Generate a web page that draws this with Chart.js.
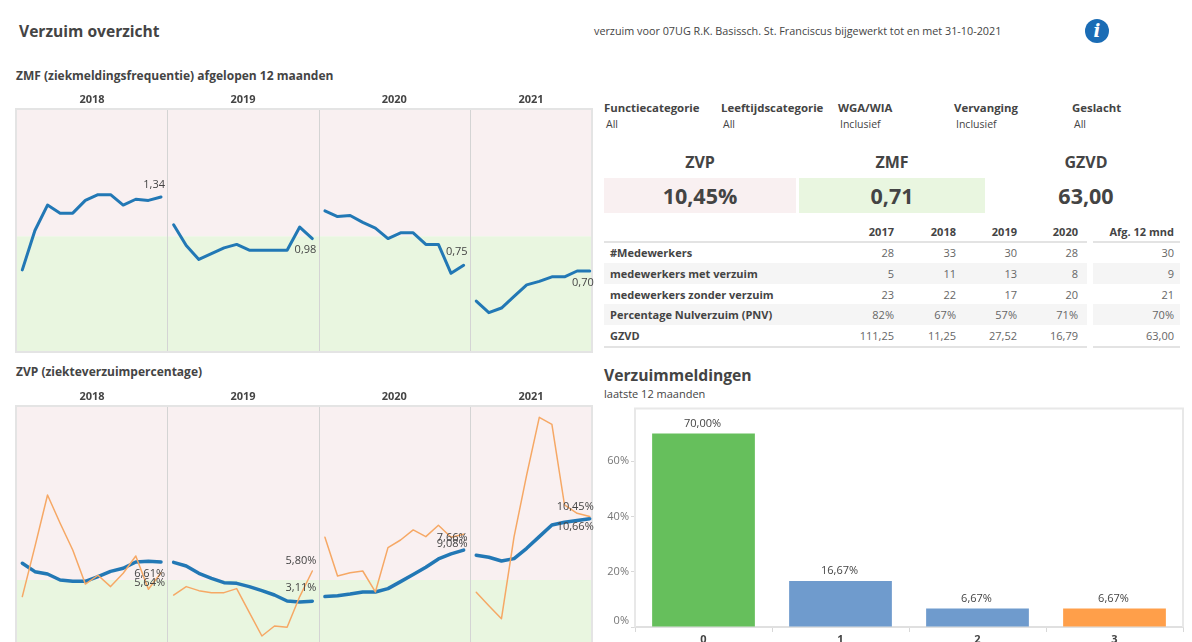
<!DOCTYPE html>
<html lang="nl">
<head>
<meta charset="utf-8">
<title>Verzuim overzicht</title>
<script src="https://cdn.jsdelivr.net/npm/chart.js@4"></script>
<style>
    html, body { margin: 0; padding: 0; width: 1192px; height: 642px; overflow: hidden; background: #fff; }
    body { position: relative; font-family: "Open Sans", sans-serif; font-size: 11px; color: #444; }
    canvas { position: absolute; }
    .txt { position: absolute; white-space: nowrap; line-height: 14px; }
    .b { font-weight: 700; }
    .mid { transform: translateX(-50%); text-align: center; }
    .box { position: absolute; }
    #info { position: absolute; left: 1085px; top: 19px; width: 24px; height: 24px; border-radius: 50%; background: #1a6cb5;
        color: #fff; font: italic 700 18px/24px "DejaVu Serif", serif; text-align: center; }
    .row { position: absolute; height: 21px; line-height: 21px; }
    .line { position: absolute; height: 2px; background: #e3e3e3; }
</style>
</head>
<body>
<div class="txt b" style="left:19px;top:23px;font-size:15.6px;line-height:16px">Verzuim overzicht</div>
<div class="txt" style="left:594px;top:24px;font-size:10.8px">verzuim voor 07UG R.K. Basissch. St. Franciscus bijgewerkt tot en met 31-10-2021</div>
<div id="info">i</div>

<div class="txt b" style="left:16px;top:69px;font-size:12px">ZMF (ziekmeldingsfrequentie) afgelopen 12 maanden</div>
<div class="txt b" style="left:16px;top:365px;font-size:12px">ZVP (ziekteverzuimpercentage)</div>
<canvas id="zmfChart" width="600" height="269" style="left:0;top:85px"></canvas>
<canvas id="zvpChart" width="600" height="269" style="left:0;top:382px"></canvas>

<div id="filters"></div>

<div class="box" style="left:604px;top:178px;width:192px;height:35px;background:#f9f0f1"></div>
<div class="box" style="left:799px;top:178px;width:186px;height:35px;background:#e9f6e0"></div>
<div id="kpis"></div>
<div id="table"></div>

<div class="txt b" style="left:604px;top:367px;font-size:15.7px;line-height:16px">Verzuimmeldingen</div>
<div class="txt" style="left:604px;top:387px">laatste 12 maanden</div>
<canvas id="barChart" width="592" height="260" style="left:600px;top:400px"></canvas>

<script>
'use strict';

const years = ['2018', '2019', '2020', '2021'];

const zmf2018 = [0.71, 1.05, 1.27, 1.20, 1.20, 1.31, 1.36, 1.36, 1.27, 1.32, 1.31, 1.34];
const zmf2019 = [1.10, 0.92, 0.80, 0.85, 0.90, 0.93, 0.88, 0.88, 0.88, 0.88, 1.08, 0.98];
const zmf2020 = [1.22, 1.17, 1.18, 1.12, 1.07, 0.98, 1.03, 1.03, 0.93, 0.93, 0.68, 0.75];
const zmf2021 = [0.44, 0.34, 0.38, 0.48, 0.58, 0.61, 0.65, 0.65, 0.70, 0.70];
const zmfEndLabels = ['1,34', '0,98', '0,75', '0,70'];

const zvpBlue2018 = [6.49, 5.74, 5.53, 5.00, 4.88, 4.88, 5.30, 5.77, 6.04, 6.60, 6.66, 6.61];
const zvpBlue2019 = [6.57, 6.25, 5.59, 5.15, 4.76, 4.70, 4.41, 4.05, 3.66, 3.13, 3.04, 3.11];
const zvpBlue2020 = [3.52, 3.60, 3.75, 3.93, 3.93, 4.23, 4.85, 5.48, 6.13, 6.87, 7.32, 7.66];
const zvpBlue2021 = [7.20, 7.02, 6.69, 6.90, 7.82, 8.86, 9.90, 10.14, 10.29, 10.45];
const zvpOrange2018 = [3.52, 7.97, 12.57, 10.05, 7.67, 4.64, 5.42, 4.41, 5.60, 7.14, 4.17, 5.64];
const zvpOrange2019 = [3.66, 4.41, 4.05, 3.87, 3.87, 4.23, 2.12, 0.01, 0.90, 0.78, 3.52, 5.80];
const zvpOrange2020 = [8.80, 5.36, 5.65, 5.80, 3.93, 7.88, 8.56, 9.46, 8.86, 9.87, 8.80, 9.08];
const zvpOrange2021 = [3.90, 2.71, 1.55, 8.86, 14.36, 19.49, 18.87, 11.68, 10.94, 10.66];
const zvpBlueLabels = ['6,61%', '3,11%', '7,66%', '10,45%'];
const zvpOrangeLabels = ['5,64%', '5,80%', '9,08%', '10,66%'];

const barCategories = ['0', '1', '2', '3'];
const barValues = [70.00, 16.67, 6.67, 6.67];
const barLabels = ['70,00%', '16,67%', '6,67%', '6,67%'];

const filterNames = ['Functiecategorie', 'Leeftijdscategorie', 'WGA/WIA', 'Vervanging', 'Geslacht'];
const filterValues = ['All', 'All', 'Inclusief', 'Inclusief', 'All'];

const kpiNames = ['ZVP', 'ZMF', 'GZVD'];
const kpiValues = ['10,45%', '0,71', '63,00'];

const tableYears = ['2017', '2018', '2019', '2020', 'Afg. 12 mnd'];
const tableRows = ['#Medewerkers', 'medewerkers met verzuim', 'medewerkers zonder verzuim', 'Percentage Nulverzuim (PNV)', 'GZVD'];
const tableMedewerkers = ['28', '33', '30', '28', '30'];
const tableMet = ['5', '11', '13', '8', '9'];
const tableZonder = ['23', '22', '17', '20', '21'];
const tablePnv = ['82%', '67%', '57%', '71%', '70%'];
const tableGzvd = ['111,25', '11,25', '27,52', '16,79', '63,00'];

const BLUE = '#2278b5';
const ORANGE = '#f6a865';
const PINK_BAND = '#f9f0f1';
const GREEN_BAND = '#e9f6e0';
const TEXT = '#444';

// every year takes 12 month slots on the x axis, 2021 runs until october
const panelStart = [0, 12, 24, 36];
const panelCenter = [5.53, 17.5, 29.5, 40.34];
const panelEdge = [11.5, 23.5, 35.5];

function monthPoints(values, panel) {
    return values.map((v, i) => ({x: panelStart[panel] + i, y: v}));
}

function lineSet(values, panel, color, width, endLabel, labelShift) {
    return {
        data: monthPoints(values, panel),
        borderColor: color,
        borderWidth: width,
        pointRadius: 0,
        tension: 0,
        borderJoinStyle: 'round',
        borderCapStyle: 'round',
        endLabel: endLabel,
        labelShift: labelShift
    };
}

// pink and green background, year separators and frame
const panelPlugin = {
    id: 'panels',
    beforeDatasetsDraw(chart, args, opts) {
        const {ctx, chartArea: a, scales} = chart;
        const yLimit = scales.y.getPixelForValue(opts.limit);
        ctx.save();
        ctx.fillStyle = PINK_BAND;
        ctx.fillRect(a.left, a.top, a.width, yLimit - a.top);
        ctx.fillStyle = GREEN_BAND;
        ctx.fillRect(a.left, yLimit, a.width, a.bottom - yLimit);
        ctx.strokeStyle = '#d4d4d4';
        ctx.lineWidth = 1;
        panelEdge.forEach(edge => {
            const x = Math.round(scales.x.getPixelForValue(edge)) + 0.5;
            ctx.beginPath();
            ctx.moveTo(x, a.top);
            ctx.lineTo(x, a.bottom);
            ctx.stroke();
        });
        ctx.strokeStyle = '#e4e4e4';
        ctx.lineWidth = 2;
        ctx.strokeRect(a.left, a.top, a.width, a.height);
        ctx.restore();
    }
};

// text next to the last point of each line piece
const endLabelPlugin = {
    id: 'endLabels',
    afterDatasetsDraw(chart) {
        const ctx = chart.ctx;
        ctx.save();
        ctx.font = '11px "Open Sans"';
        ctx.fillStyle = TEXT;
        ctx.textAlign = 'right';
        ctx.textBaseline = 'middle';
        chart.data.datasets.forEach((ds, i) => {
            const last = chart.getDatasetMeta(i).data.at(-1);
            ctx.fillText(ds.endLabel, last.x + 4, last.y + ds.labelShift);
        });
        ctx.restore();
    }
};

function lineChart(id, datasets, yMin, yMax, limit) {
    return new Chart(document.querySelector(id), {
        type: 'line',
        data: {datasets: datasets},
        options: {
            responsive: false,
            animation: false,
            layout: {padding: {left: 16, right: 8, bottom: 2}},
            plugins: {legend: {display: false}, tooltip: {enabled: false}, panels: {limit: limit}},
            scales: {
                x: {
                    type: 'linear',
                    position: 'top',
                    min: -0.5,
                    max: 45.18,
                    grid: {display: false, drawTicks: false},
                    border: {display: false},
                    afterBuildTicks: axis => { axis.ticks = panelCenter.map(v => ({value: v})); },
                    afterFit: axis => { axis.height = 24; },
                    ticks: {
                        autoSkip: false,
                        maxRotation: 0,
                        padding: 3,
                        color: TEXT,
                        font: {family: 'Open Sans', size: 11, weight: '700'},
                        callback: (v, i) => years[i]
                    }
                },
                y: {display: false, min: yMin, max: yMax}
            }
        },
        plugins: [panelPlugin, endLabelPlugin]
    });
}

const zmfShift = [-12, 11, -13, 12];
lineChart('#zmfChart', [zmf2018, zmf2019, zmf2020, zmf2021].map((vals, p) =>
    lineSet(vals, p, BLUE, 3, zmfEndLabels[p], zmfShift[p])), 0, 2.1, 1);

const zvpBlueShift = [12, -13, -12, -12];
const zvpOrangeShift = [10, -10, 10, 10];
const zvpOrange = [zvpOrange2018, zvpOrange2019, zvpOrange2020, zvpOrange2021];
const zvpBlue = [zvpBlue2018, zvpBlue2019, zvpBlue2020, zvpBlue2021];
lineChart('#zvpChart', [
    ...zvpOrange.map((vals, p) => lineSet(vals, p, ORANGE, 1.5, zvpOrangeLabels[p], zvpOrangeShift[p])),
    ...zvpBlue.map((vals, p) => lineSet(vals, p, BLUE, 3.5, zvpBlueLabels[p], zvpBlueShift[p]))
], -1.15, 20.5, 5);

// bar frame + value labels above the bars
const barExtras = {
    id: 'barExtras',
    beforeDatasetsDraw(chart) {
        const {ctx, chartArea: a} = chart;
        ctx.save();
        ctx.strokeStyle = '#e8e8e8';
        ctx.lineWidth = 2;
        ctx.beginPath();
        ctx.moveTo(a.left, a.bottom);
        ctx.lineTo(a.left, a.top);
        ctx.lineTo(a.right, a.top);
        ctx.lineTo(a.right, a.bottom);
        ctx.stroke();
        ctx.restore();
    },
    afterDatasetsDraw(chart) {
        const ctx = chart.ctx;
        ctx.save();
        ctx.font = '11px "Open Sans"';
        ctx.fillStyle = TEXT;
        ctx.textAlign = 'center';
        ctx.textBaseline = 'middle';
        chart.getDatasetMeta(0).data.forEach((bar, i) => {
            ctx.fillText(barLabels[i], bar.x - 1, bar.y - 10);
        });
        ctx.restore();
    }
};

new Chart(document.querySelector('#barChart'), {
    type: 'bar',
    data: {
        labels: barCategories,
        datasets: [{
            data: barValues,
            backgroundColor: ['#66bf5c', '#6f9bcd', '#6f9bcd', '#ff9f4a'],
            barPercentage: 0.75,
            categoryPercentage: 1
        }]
    },
    options: {
        responsive: false,
        animation: false,
        layout: {padding: {top: 8, right: 9}},
        plugins: {legend: {display: false}, tooltip: {enabled: false}},
        scales: {
            x: {
                grid: {drawOnChartArea: false, color: '#d8d8d8', tickLength: 5},
                border: {color: '#e0e0e0', width: 2},
                afterFit: axis => { axis.height = 33; },
                ticks: {color: TEXT, padding: 1, font: {family: 'Open Sans', size: 11, weight: '700'}}
            },
            y: {
                min: 0,
                max: 79,
                grid: {drawOnChartArea: false, color: '#d8d8d8', tickLength: 4},
                border: {display: false},
                afterFit: axis => { axis.width = 35; },
                ticks: {
                    stepSize: 20,
                    includeBounds: false,
                    padding: 2,
                    color: '#777',
                    font: {family: 'Open Sans', size: 11},
                    // two lines push the 0% label up from the axis
                    callback: v => v === 0 ? ['0%', ''] : v + '%'
                }
            }
        }
    },
    plugins: [barExtras]
});

// filters, kpis and table are plain text next to the charts
const filterX = [604, 721, 838, 954, 1072];
document.querySelector('#filters').innerHTML = filterNames.map((name, i) =>
    `<div class="txt b" style="left:${filterX[i]}px;top:101px;font-size:11.4px">${name}</div>` +
    `<div class="txt" style="left:${filterX[i] + 2}px;top:117px;font-size:10.5px">${filterValues[i]}</div>`).join('');

const kpiX = [700, 892, 1086];
document.querySelector('#kpis').innerHTML = kpiNames.map((name, i) =>
    `<div class="txt b mid" style="left:${kpiX[i]}px;top:153px;font-size:16px;line-height:18px">${name}</div>` +
    `<div class="txt b mid" style="left:${kpiX[i]}px;top:182px;font-size:21.5px;line-height:28px">${kpiValues[i]}</div>`).join('');

const columnRight = [894, 956, 1017, 1078, 1174];
const rowValues = [tableMedewerkers, tableMet, tableZonder, tablePnv, tableGzvd];
const rowTop = [242, 263, 284, 304, 325];
let tableHtml = '';
tableYears.forEach((year, c) => {
    tableHtml += `<div class="txt b" style="right:${1192 - columnRight[c]}px;top:225px">${year}</div>`;
});
tableRows.forEach((name, r) => {
    if (r % 2 === 1) {
        tableHtml += `<div class="row" style="left:604px;width:483px;top:${rowTop[r]}px;background:#f5f5f5"></div>`;
        tableHtml += `<div class="row" style="left:1093px;width:87px;top:${rowTop[r]}px;background:#f5f5f5"></div>`;
    }
    tableHtml += `<div class="row b" style="left:610px;top:${rowTop[r]}px">${name}</div>`;
    rowValues[r].forEach((v, c) => {
        tableHtml += `<div class="row" style="right:${1192 - columnRight[c]}px;top:${rowTop[r]}px;color:#666">${v}</div>`;
    });
});
[241, 346].forEach(y => {
    tableHtml += `<div class="line" style="left:604px;width:483px;top:${y}px"></div>`;
    tableHtml += `<div class="line" style="left:1093px;width:87px;top:${y}px"></div>`;
});
document.querySelector('#table').innerHTML = tableHtml;
</script>
</body>
</html>
